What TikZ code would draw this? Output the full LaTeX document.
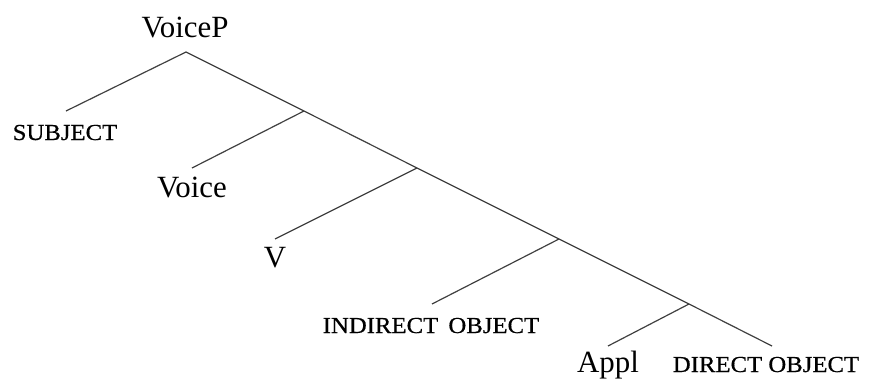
\documentclass[tikz,border=0pt]{standalone}
\usepackage{fontspec}
\setmainfont{Liberation Serif}
\newfontfamily\scfont[FakeStretch=1.08,FakeBold=0.6]{Liberation Serif}
\begin{document}
\begin{tikzpicture}[x=1bp,y=-1bp,
  branch/.style={line width=1.2bp,draw=black!75},
  lab/.style={anchor=base,inner sep=0pt,font=\fontsize{31}{31}\selectfont},
  sclab/.style={anchor=base,inner sep=0pt,font=\scfont\fontsize{23}{23}\selectfont}]
\useasboundingbox (0,0) rectangle (871,379);
% labels
\node[lab] (voicep) at (185,37) {VoiceP};
\node[sclab] (subj) at (65,140) {SUBJECT};
\node[lab] (voice) at (192,197) {Voice};
\node[lab] (v) at (275,267) {V};
\node[sclab] (io) at (431,333) {INDIRECT\hspace{4bp} OBJECT};
\node[lab] (appl) at (608,372) {Appl};
\node[sclab] (do) at (766,372) {DIRECT OBJECT};
% branching points
\coordinate (r) at (186,52);
\coordinate (n1) at (304,111);
\coordinate (n2) at (417,168);
\coordinate (n3) at (559,239);
\coordinate (n4) at (689,304);
% leaf ends
\coordinate (subjE) at (66,111);
\coordinate (voiceE) at (192,168);
\coordinate (vE) at (275,239);
\coordinate (ioE) at (432,304);
\coordinate (applE) at (608,346);
\coordinate (doE) at (772,346);
% lines
\draw[branch] (subjE) -- (r) -- (n1) -- (n2) -- (n3) -- (n4) -- (doE);
\draw[branch] (n1) -- (voiceE);
\draw[branch] (n2) -- (vE);
\draw[branch] (n3) -- (ioE);
\draw[branch] (n4) -- (applE);
\end{tikzpicture}
\end{document}
